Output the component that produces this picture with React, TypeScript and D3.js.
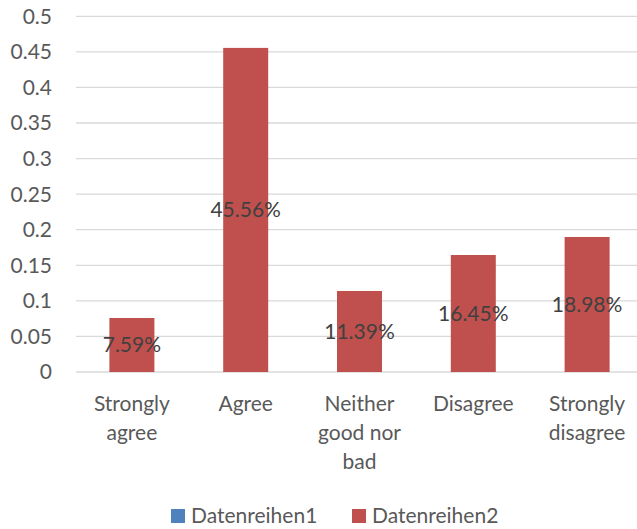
import React, {useEffect, useRef} from 'react';
import * as d3 from 'd3';

const categories = [
  ['Strongly', 'agree'],
  ['Agree'],
  ['Neither', 'good nor', 'bad'],
  ['Disagree'],
  ['Strongly', 'disagree'],
];
const series2 = [0.0759, 0.4556, 0.1139, 0.1645, 0.1898];
const yTicks = [0, 0.05, 0.1, 0.15, 0.2, 0.25, 0.3, 0.35, 0.4, 0.45, 0.5];
const legendItems = [
  {name: 'Datenreihen1', color: '#4F81BD'},
  {name: 'Datenreihen2', color: '#C0504D'},
];

const W = 637;
const H = 529;
const FONT = 'Lato, "Open Sans", sans-serif';
const FS = 21;

export default function App() {
  const svgRef = useRef<SVGSVGElement>(null);

  useEffect(() => {
    if (!svgRef.current) return;
    const svg = d3.select(svgRef.current);
    svg.selectAll('*').remove();

    const keys = categories.map((_, i) => String(i));
    const x = d3.scaleBand().domain(keys).range([75, 644]);
    const y = d3.scaleLinear().domain([0, 0.5]).range([372, 16.3]);
    const barW = 45;

    // gridlines
    svg
      .append('g')
      .selectAll('line')
      .data(yTicks)
      .join('line')
      .attr('x1', 76)
      .attr('x2', W)
      .attr('y1', (d) => y(d))
      .attr('y2', (d) => y(d))
      .attr('stroke', '#d9d9d9')
      .attr('stroke-width', 1.3);

    // y labels
    svg
      .append('g')
      .selectAll('text')
      .data(yTicks)
      .join('text')
      .attr('x', 52)
      .attr('y', (d) => y(d))
      .attr('dy', '0.35em')
      .attr('text-anchor', 'end')
      .attr('font-family', FONT)
      .attr('font-size', FS)
      .attr('fill', '#595959')
      .text((d) => String(d));

    // bars
    svg
      .append('g')
      .selectAll('rect')
      .data(series2)
      .join('rect')
      .attr('x', (_, i) => (x(String(i)) as number) + x.bandwidth() / 2 - barW / 2)
      .attr('y', (d) => y(d))
      .attr('width', barW)
      .attr('height', (d) => y(0) - y(d))
      .attr('fill', '#C0504D');

    // data labels
    svg
      .append('g')
      .selectAll('text')
      .data(series2)
      .join('text')
      .attr('x', (_, i) => (x(String(i)) as number) + x.bandwidth() / 2)
      .attr('y', (d) => (y(d) + y(0)) / 2)
      .attr('dy', '0.35em')
      .attr('text-anchor', 'middle')
      .attr('font-family', FONT)
      .attr('font-size', FS)
      .attr('fill', '#404040')
      .text((d) => `${(d * 100).toFixed(2)}%`);

    // category labels
    const cat = svg
      .append('g')
      .selectAll('text')
      .data(categories)
      .join('text')
      .attr('text-anchor', 'middle')
      .attr('font-family', FONT)
      .attr('font-size', FS)
      .attr('fill', '#595959');
    cat
      .selectAll('tspan')
      .data((d, i) => d.map((line) => ({line, i})))
      .join('tspan')
      .attr('x', (d) => (x(String(d.i)) as number) + x.bandwidth() / 2)
      .attr('y', (_, j) => 404 + j * 29)
      .attr('dy', '0.35em')
      .text((d) => d.line);

    // legend
    const legendX = [171, 352];
    const lg = svg
      .append('g')
      .selectAll('g')
      .data(legendItems)
      .join('g')
      .attr('transform', (_, i) => `translate(${legendX[i]},516)`);
    lg.append('rect')
      .attr('x', 0)
      .attr('y', -7)
      .attr('width', 14)
      .attr('height', 14)
      .attr('fill', (d) => d.color);
    lg.append('text')
      .attr('x', 20)
      .attr('y', 0)
      .attr('dy', '0.35em')
      .attr('font-family', FONT)
      .attr('font-size', FS)
      .attr('fill', '#595959')
      .text((d) => d.name);
  }, []);

  return (
    <svg
      ref={svgRef}
      width={W}
      height={H}
      style={{position: 'absolute', left: 0, top: 0, background: '#fff'}}
    />
  );
}
